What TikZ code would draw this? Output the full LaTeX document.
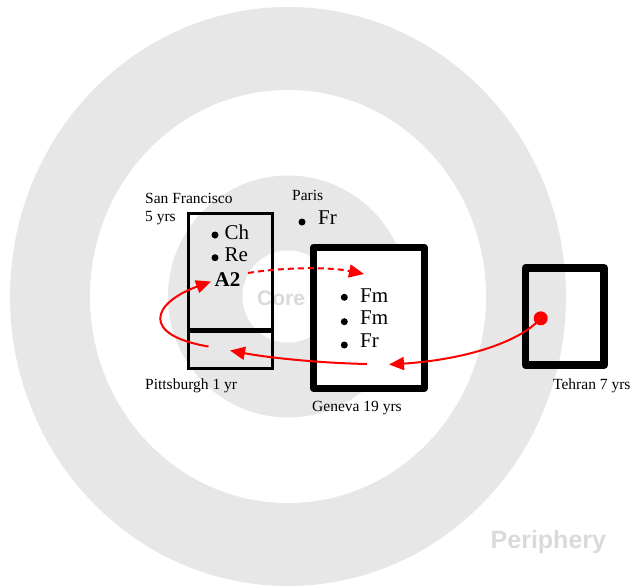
\documentclass[tikz,border=0pt]{standalone}
\usepackage{fontspec}
\setmainfont{Liberation Serif}
\newfontfamily\zonefont{Liberation Sans}
\usetikzlibrary{arrows.meta}
\definecolor{ringgray}{RGB}{231,231,231}
\definecolor{zonegray}{RGB}{218,218,218}
\definecolor{movered}{RGB}{255,0,0}

\begin{document}
\begin{tikzpicture}[x=1pt,y=-1pt,
    city/.style={font=\fontsize{15.5}{17}\selectfont,anchor=base west,inner sep=0pt},
    field/.style={font=\fontsize{21}{24}\selectfont,anchor=base west,inner sep=0pt},
    bullet/.style={circle,fill=black,inner sep=0pt,minimum size=7pt},
    zone/.style={text=zonegray,font=\zonefont\bfseries,anchor=base west,inner sep=0pt},
    thinbox/.style={draw,line width=3pt,inner sep=0pt},
    thickbox/.style={draw,line width=7pt,line join=round,inner sep=0pt},
    move/.style={draw=movered,line width=2pt,-{Triangle[length=15pt,width=13pt]}}]
        \useasboundingbox (0,0) rectangle (634,587);
        % rings
        \fill[ringgray] (288,296.5) ellipse [x radius=278, y radius=289.5];
        \fill[white]    (288,296.5) ellipse [x radius=198, y radius=206.5];
        \fill[ringgray] (288,296.5) ellipse [x radius=120, y radius=121];
        \fill[white]    (288,296.5) ellipse [x radius=45.5, y radius=46];
        \node[zone,font=\zonefont\bfseries\fontsize{21}{24}\selectfont] (core) at (257,305) {Core};
        \node[zone,font=\zonefont\bfseries\fontsize{25}{28}\selectfont] (periphery) at (490.5,548.5) {Periphery};
        % boxes
        \node[thinbox,minimum width=84.3pt,minimum height=116pt] (sf) at (230.35,271.5) {};
        \node[thinbox,minimum width=84.3pt,minimum height=37.5pt] (pitt) at (230.35,349.75) {};
        \node[thickbox,fill=white,minimum width=110.7pt,minimum height=140.7pt] (geneva) at (368.85,317.85) {};
        \node[thickbox,line width=7.5pt,minimum width=78.7pt,minimum height=97.4pt] (tehran) at (564.85,316.5) {};
        % labels
        \node[city] (sflabel) at (145,203.3) {San Francisco};
        \node[city] (sfyrs) at (145,221) {5 yrs};
        \node[city] (paris) at (292,200.7) {Paris};
        \node[city] (pittlabel) at (145,389) {Pittsburgh 1 yr};
        \node[city] (genevalabel) at (312,411.5) {Geneva 19 yrs};
        \node[city] (tehranlabel) at (553,389.5) {Tehran 7 yrs};
        % fields
        \node[bullet] (parisdot) at (302,222) {};
        \node[field] (parisfr) at (318,224) {Fr};
        \node[bullet] (chdot) at (215,235) {};
        \node[field] (ch) at (224.3,239.3) {Ch};
        \node[bullet] (redot) at (215,257.7) {};
        \node[field] (re) at (224.3,261.7) {Re};
        \node[field,font=\fontsize{21}{24}\selectfont\bfseries] (a2) at (214.5,286.7) {A2};
        \node[bullet] (fmdot) at (344.3,297.3) {};
        \node[field] (fm) at (360,302.3) {Fm};
        \node[bullet] (fmdotb) at (344.3,321.7) {};
        \node[field] (fmb) at (360,324.3) {Fm};
        \node[bullet] (frdot) at (344.3,345) {};
        \node[field] (fr) at (360,347) {Fr};
        % moves
        \node[circle,fill=movered,inner sep=0pt,minimum size=14pt] (start) at (540.7,318.3) {};
        \coordinate (genin) at (389,364.5);
        \coordinate (genout) at (367,364);
        \coordinate (pittin) at (230,350.5);
        \coordinate (pittout) at (208.5,346.5);
        \coordinate (a2in) at (211,281.5);
        \coordinate (a2out) at (248,273);
        \coordinate (genup) at (364,274);
        \draw[move] (start.center) .. controls (518,344) and (460,360) .. (genin);
        \draw[move] (genout) .. controls (320,363) and (270,358) .. (pittin);
        \draw[move] (pittout) .. controls (140,335) and (152,303) .. (a2in);
        \draw[move,dash pattern=on 6pt off 4pt] (a2out) .. controls (285,267) and (330,267) .. (genup);
\end{tikzpicture}
\end{document}
